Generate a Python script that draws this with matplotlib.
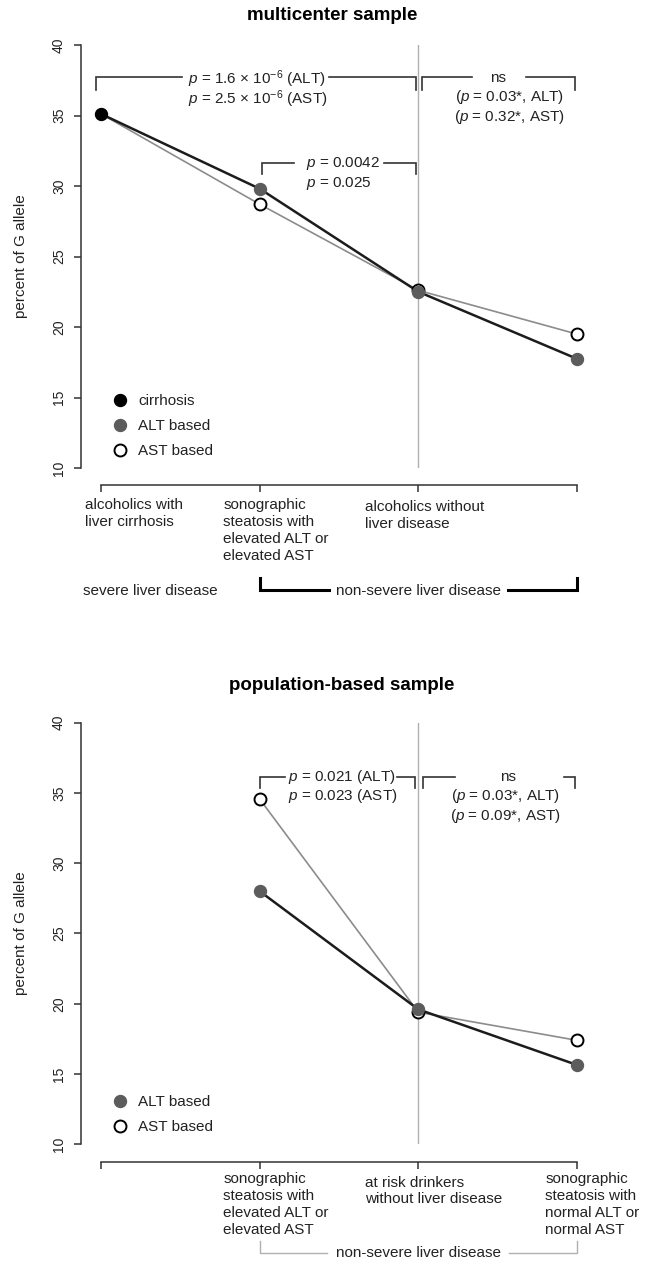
import numpy as np
import matplotlib.pyplot as plt
from matplotlib.lines import Line2D

plt.rcParams['font.family'] = ['Liberation Sans', 'DejaVu Sans']
plt.rcParams['mathtext.fontset'] = 'custom'
plt.rcParams['mathtext.rm'] = 'Liberation Sans'
plt.rcParams['mathtext.it'] = 'Liberation Sans:italic'

# ---- data ----
positions = [1, 2, 3, 4]
yticks = [10, 15, 20, 25, 30, 35, 40]

multi_cirrhosis = [35.1]
multi_alt = [35.1, 29.8, 22.5, 17.75]
multi_ast = [35.1, 28.7, 22.6, 19.5]

pop_alt = [np.nan, 28.0, 19.6, 15.65]
pop_ast = [np.nan, 34.55, 19.4, 17.4]

multi_labels = [["alcoholics with", "liver cirrhosis"],
                ["sonographic", "steatosis with", "elevated ALT or", "elevated AST"],
                ["alcoholics without", "liver disease"]]
pop_labels = [["sonographic", "steatosis with", "elevated ALT or", "elevated AST"],
              ["at risk drinkers", "without liver disease"],
              ["sonographic", "steatosis with", "normal ALT or", "normal AST"]]

# colours
TXT = '#222222'
AXIS = '#333333'
DARK = '#1c1c1c'
ALT_FILL = '#5c5c5c'
GREY = '#8c8c8c'
VLINE = '#b0b0b0'
FS = 11


def bracket(ax, x0, x1, y, y_end, gap=None, color=AXIS, lw=1.2):
    # horizontal bar with two end ticks, optional gap for a label
    if gap is None:
        ax.plot([x0, x0, x1, x1], [y_end, y, y, y_end], color=color, lw=lw,
                clip_on=False, solid_joinstyle='miter')
    else:
        ax.plot([x0, x0, gap[0]], [y_end, y, y], color=color, lw=lw,
                clip_on=False, solid_joinstyle='miter')
        ax.plot([gap[1], x1, x1], [y, y, y_end], color=color, lw=lw,
                clip_on=False, solid_joinstyle='miter')


def stack(ax, x, y, lines, dy, ha='left', **kw):
    # one text per line so the spacing is under control
    for i, s in enumerate(lines):
        ax.text(x, y - i * dy, s, ha=ha, va='center', color=TXT, fontsize=FS,
                clip_on=False, **kw)


def style(ax, xpad):
    ax.set_xlim(0.869, 4.25)
    ax.set_ylim(10, 40)
    ax.spines['top'].set_visible(False)
    ax.spines['right'].set_visible(False)
    for s in ['left', 'bottom']:
        ax.spines[s].set_color(AXIS)
        ax.spines[s].set_linewidth(1.1)
    ax.spines['left'].set_bounds(10, 40)
    ax.spines['bottom'].set_position(('outward', xpad))
    ax.spines['bottom'].set_bounds(1, 4)
    ax.set_xticks(positions)
    ax.set_xticklabels([])
    ax.set_yticks(yticks)
    ax.tick_params(axis='both', length=5, width=1.1, color=AXIS)
    ax.tick_params(axis='y', labelsize=10, labelcolor=TXT, labelrotation=90, pad=5.5)
    for lab in ax.get_yticklabels():
        lab.set_va('center')
    ax.text(-0.1118, 0.5, 'percent of G allele', transform=ax.transAxes,
            rotation=90, ha='center', va='center', fontsize=FS, color=TXT)
    ax.axvline(positions[2], color=VLINE, lw=1.0, zorder=1)


def legend(ax, handles, anchor):
    ax.legend(handles=handles, loc='upper left', bbox_to_anchor=anchor,
              frameon=False, fontsize=FS, labelcolor=TXT, handlelength=0.8,
              handletextpad=0.8, labelspacing=0.72, borderpad=0,
              borderaxespad=0)


ms = 8.6
h_cirr = Line2D([], [], ls='none', marker='o', ms=ms, mfc='black', mec='black', label='cirrhosis')
h_alt = Line2D([], [], ls='none', marker='o', ms=ms, mfc=ALT_FILL, mec=ALT_FILL, label='ALT based')
h_ast = Line2D([], [], ls='none', marker='o', ms=ms, mfc='white', mec='black', mew=1.4, label='AST based')

fig = plt.figure(figsize=(6.49, 12.62), dpi=100)

# ================= multicenter sample =================
ax1 = fig.add_axes([0.1242, 0.62916, 0.8256, 0.33518])
style(ax1, 12.2)
ax1.text(0.469, 1.0709, 'multicenter sample', transform=ax1.transAxes,
         ha='center', va='center', fontsize=13.5, fontweight='bold', color='black')

ax1.plot(positions, multi_ast, color=GREY, lw=1.2, zorder=2)
ax1.plot(positions, multi_alt, color=DARK, lw=1.8, zorder=3)
ax1.plot(positions[1:], multi_ast[1:], ls='none', marker='o', ms=ms,
         mfc='white', mec='black', mew=1.4, zorder=4)
ax1.plot(positions[1:], multi_alt[1:], ls='none', marker='o', ms=ms,
         mfc=ALT_FILL, mec=ALT_FILL, zorder=5)
ax1.plot(positions[:1], multi_cirrhosis, ls='none', marker='o', ms=ms,
         mfc='black', mec='black', zorder=6)
legend(ax1, [h_cirr, h_alt, h_ast], (0.0622, 0.175))

bracket(ax1, 0.967, 2.983, 37.71, 36.81, gap=(1.509, 2.435))
stack(ax1, 1.547, 37.55, [r'$p$ = 1.6 × 10$^{-6}$ (ALT)', r'$p$ = 2.5 × 10$^{-6}$ (AST)'], 1.37)
bracket(ax1, 3.022, 3.988, 37.71, 36.81, gap=(3.336, 3.68))
stack(ax1, 3.503, 37.66, ['ns'], 1.4, ha='center')
stack(ax1, 3.575, 36.29, [r'($p$ = 0.03*, ALT)', r'($p$ = 0.32*, AST)'], 1.42, ha='center')
bracket(ax1, 2.013, 2.983, 31.61, 30.85, gap=(2.213, 2.782))
stack(ax1, 2.29, 31.61, [r'$p$ = 0.0042', r'$p$ = 0.025'], 1.42)

for x, y, lines in zip([0.896, 1.770, 2.662], [7.376, 7.376, 7.26], multi_labels):
    stack(ax1, x, y, lines, 1.199)
stack(ax1, 0.883, 1.30, ['severe liver disease'], 1.2)
bracket(ax1, 2, 4, 1.35, 2.18, gap=(2.435, 3.565), color='black', lw=2.2)
stack(ax1, 3.0, 1.30, ['non-severe liver disease'], 1.2, ha='center')

# ================= population-based sample =================
ax2 = fig.add_axes([0.1242, 0.09327, 0.8256, 0.33407])
style(ax2, 13.0)
ax2.text(0.4872, 1.0894, 'population-based sample', transform=ax2.transAxes,
         ha='center', va='center', fontsize=13.5, fontweight='bold', color='black')

ax2.plot(positions, pop_ast, color=GREY, lw=1.2, zorder=2)
ax2.plot(positions, pop_alt, color=DARK, lw=1.8, zorder=3)
ax2.plot(positions, pop_ast, ls='none', marker='o', ms=ms,
         mfc='white', mec='black', mew=1.4, zorder=4)
ax2.plot(positions, pop_alt, ls='none', marker='o', ms=ms,
         mfc=ALT_FILL, mec=ALT_FILL, zorder=5)
legend(ax2, [h_alt, h_ast], (0.0622, 0.117))

bracket(ax2, 2.0, 2.978, 36.16, 35.36, gap=(2.161, 2.866))
stack(ax2, 2.18, 36.16, [r'$p$ = 0.021 (ALT)', r'$p$ = 0.023 (AST)'], 1.37)
bracket(ax2, 3.028, 3.988, 36.16, 35.36, gap=(3.232, 3.922))
stack(ax2, 3.565, 36.16, ['ns'], 1.4, ha='center')
stack(ax2, 3.55, 34.79, [r'($p$ = 0.03*, ALT)', r'($p$ = 0.09*, AST)'], 1.42, ha='center')

for x, y, lines in zip([1.770, 2.662, 3.80], [7.525, 7.28, 7.525], pop_labels):
    stack(ax2, x, y, lines, 1.202)
bracket(ax2, 2, 4, 2.30, 3.09, gap=(2.422, 3.575), color=VLINE, lw=1.0)
stack(ax2, 3.0, 2.30, ['non-severe liver disease'], 1.2, ha='center')

fig.savefig('out.png', dpi=100)
